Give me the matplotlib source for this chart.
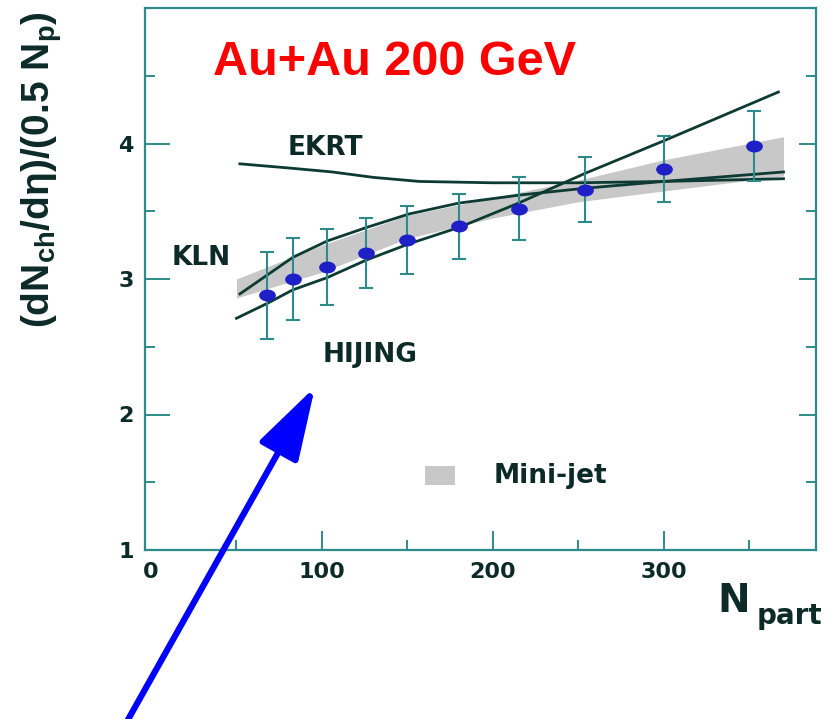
import numpy as np
import matplotlib
matplotlib.use("Agg")
import matplotlib.pyplot as plt
from matplotlib.path import Path
from matplotlib.patches import Rectangle
from matplotlib.ticker import MultipleLocator, FixedLocator

plt.rcParams.update({
    "font.family": "DejaVu Sans", "font.weight": "bold",
    "mathtext.fontset": "custom", "mathtext.bf": "Liberation Sans:bold",
    "mathtext.rm": "Liberation Sans:bold",
})

TEAL = "#2e8b8b"; INK = "#0c2a28"; LINE = "#0d3b33"; BLUE = "#1f1fc8"; BAND = "#c8c8c8"

# PHOBOS-style data points
npart = [68, 83, 103, 126, 150, 180, 215, 254, 300, 353]
ratio = [2.88, 3.00, 3.09, 3.19, 3.29, 3.39, 3.52, 3.66, 3.81, 3.98]
err = [0.32, 0.30, 0.28, 0.26, 0.25, 0.24, 0.23, 0.24, 0.245, 0.26]

# model curves
ekrt_x = [52, 80, 106, 130, 157, 200, 250, 300, 370]
ekrt_y = [3.85, 3.82, 3.79, 3.75, 3.72, 3.71, 3.71, 3.72, 3.74]
kln_x = [52, 83, 103, 126, 151, 180, 216, 254, 300, 370]
kln_y = [2.89, 3.16, 3.28, 3.38, 3.48, 3.56, 3.62, 3.67, 3.72, 3.79]
hij_x = [50, 68, 83, 103, 126, 151, 180, 215, 254, 300, 367]
hij_y = [2.71, 2.82, 2.92, 3.01, 3.14, 3.26, 3.38, 3.56, 3.78, 4.02, 4.38]

# mini-jet band
band_x = [50, 100, 150, 200, 250, 300, 370]
band_lo = [2.86, 3.05, 3.30, 3.45, 3.57, 3.65, 3.76]
band_hi = [3.00, 3.25, 3.47, 3.60, 3.73, 3.88, 4.05]

fig = plt.figure(figsize=(8.4, 7.19), dpi=100)
ax = fig.add_axes([145 / 840, 1 - 550 / 719, 671 / 840, 542 / 719])

ax.fill_between(band_x, band_lo, band_hi, color=BAND, lw=0, zorder=1)
for xs, ys in [(ekrt_x, ekrt_y), (kln_x, kln_y), (hij_x, hij_y)]:
    ax.plot(xs, ys, color=LINE, lw=2.0, zorder=3)

circ = Path.unit_circle()
ell = Path(circ.vertices * np.array([1.45, 1.0]), circ.codes)
ax.errorbar(npart, ratio, yerr=err, fmt="none", ecolor=TEAL, elinewidth=1.5,
            capsize=5, capthick=1.5, zorder=4)
ax.plot(npart, ratio, ls="none", marker=ell, ms=11, color=BLUE, mec=BLUE, zorder=5)

ax.set_xlim(-3.5, 389); ax.set_ylim(1, 5)
ax.xaxis.set_major_locator(MultipleLocator(100)); ax.xaxis.set_minor_locator(MultipleLocator(50))
ax.yaxis.set_major_locator(FixedLocator([1, 2, 3, 4])); ax.yaxis.set_minor_locator(MultipleLocator(0.5))
for s in ax.spines.values():
    s.set_color(TEAL); s.set_linewidth(1.6)
ax.tick_params(which="both", direction="in", color=TEAL, width=1.4, top=False, right=True,
               labelcolor=INK, labelsize=16)
ax.tick_params(axis="y", which="major", length=18, pad=8)
ax.tick_params(axis="x", which="major", length=14, pad=9)
ax.tick_params(which="minor", length=7)
for t in ax.yaxis.get_major_ticks():
    t.tick2line.set_markersize(12)
for t, loc in zip(ax.xaxis.get_major_ticks(), ax.xaxis.get_majorticklocs()):
    if loc == 0:
        t.tick1line.set_visible(False)

ax.text(0.101, 0.876, "Au+Au 200 GeV", transform=ax.transAxes, color="#ff0000",
        fontsize=35, fontweight="bold", family="Liberation Sans", va="baseline")
lab = dict(transform=ax.transAxes, color=INK, fontsize=19, fontweight="bold", va="baseline")
ax.text(0.213, 0.729, "EKRT", **lab)
ax.text(0.040, 0.526, "KLN", **lab)
ax.text(0.264, 0.347, "HIJING", **lab)

ax.add_patch(Rectangle((0.417, 0.12), 0.0447, 0.035, transform=ax.transAxes,
                       color=BAND, lw=0, clip_on=False))
ax.text(0.519, 0.124, "Mini-jet", transform=ax.transAxes, color=INK, fontsize=19,
        fontweight="bold", va="baseline")

fig.text(42 / 840, 1 - 170 / 719, r"(dN$_{\mathbf{ch}}$/dη)/(0.5 N$_{\mathbf{p}}$)",
         rotation=90, ha="center", va="center", fontsize=28, fontweight="bold",
         family="Liberation Sans", color=INK)
fig.text(717 / 840, 1 - 612 / 719, r"N", fontsize=28, fontweight="bold", color=INK,
         ha="left", va="baseline")
fig.text(757 / 840, 1 - 624 / 719, "part", fontsize=20, fontweight="bold", color=INK,
         ha="left", va="baseline")

ax.annotate("", xy=(315, 719 - 387), xytext=(125, -6), xycoords="figure pixels",
            textcoords="figure pixels", annotation_clip=False,
            arrowprops=dict(arrowstyle="-|>,head_length=4.5,head_width=1.35",
                            mutation_scale=10, lw=4.5, color="#0000ff",
                            shrinkA=0, shrinkB=0))

fig.savefig("out.png", dpi=100)
